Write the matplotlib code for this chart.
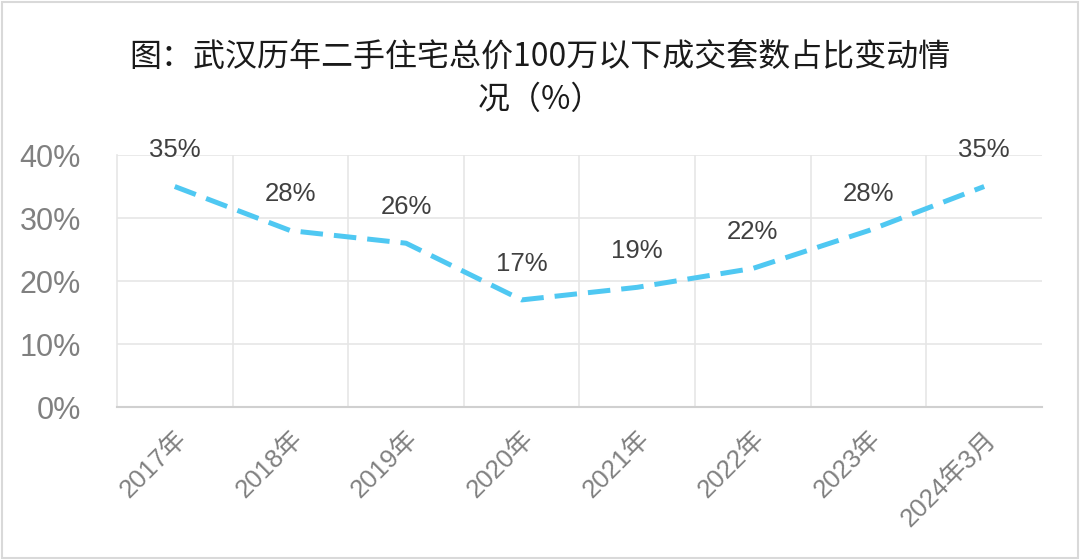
import matplotlib
matplotlib.use("Agg")
import matplotlib.pyplot as plt
from matplotlib.patches import Rectangle

categories = ["2017年", "2018年", "2019年", "2020年", "2021年", "2022年", "2023年", "2024年3月"]
values = [35, 28, 26, 17, 19, 22, 28, 35]
yticks = [0, 10, 20, 30, 40]
title = "图：武汉历年二手住宅总价100万以下成交套数占比变动情\n况（%）"

fam = ["Liberation Sans", "Noto Sans CJK SC", "DejaVu Sans"]
plt.rcParams['font.family'] = fam

fig = plt.figure(figsize=(10.8, 5.6), dpi=100)
ax = fig.add_axes([0.1083, 0.2732, 0.8565, 0.45])

n = len(categories)
x = list(range(n))
ax.plot(x, values, color="#4FC8F2", lw=3.6, linestyle=(0, (4.5, 2.2)),
        solid_capstyle="butt", dash_capstyle="butt", zorder=3)
for xi, v in zip(x, values):
    ax.annotate(f"{v}%", (xi, v), xytext=(0, 26), textcoords="offset points",
                ha="center", va="center", fontsize=18.5, color="#404040")

ax.set_xlim(-0.5, n - 0.5)
ax.set_ylim(0, 40)
ax.set_yticks(yticks)
ax.set_yticklabels([f"{t}%" for t in yticks], fontsize=22, color="#808080")
ax.set_xticks(x)
ax.set_xticklabels(categories, rotation=45, ha="right", rotation_mode="anchor",
                   fontsize=18.5, color="#808080")
ax.tick_params(axis="both", length=0)
ax.tick_params(axis="y", pad=26)
ax.tick_params(axis="x", pad=14)
for xi in range(1, n):
    ax.axvline(xi - 0.5, color="#E6E6E6", lw=1.2, zorder=1)
for t in yticks[1:]:
    ax.axhline(t, color="#E6E6E6", lw=1.2, zorder=1)
for s in ["top", "right"]:
    ax.spines[s].set_visible(False)
ax.spines["left"].set_color("#E6E6E6")
ax.spines["left"].set_linewidth(1.2)
ax.spines["bottom"].set_color("#D0D0D0")
ax.spines["bottom"].set_linewidth(1.5)

fig.text(0.5, 0.86, title, ha="center", va="center", fontsize=23,
         color="#1a1a1a", linespacing=1.45,
         family=["Noto Sans CJK SC", "DejaVu Sans"])

fig.patches.append(Rectangle((0.002, 0.003), 0.996, 0.994, transform=fig.transFigure,
                             fill=False, edgecolor="#D9D9D9", lw=1.5))
fig.savefig("out.png", dpi=100)
